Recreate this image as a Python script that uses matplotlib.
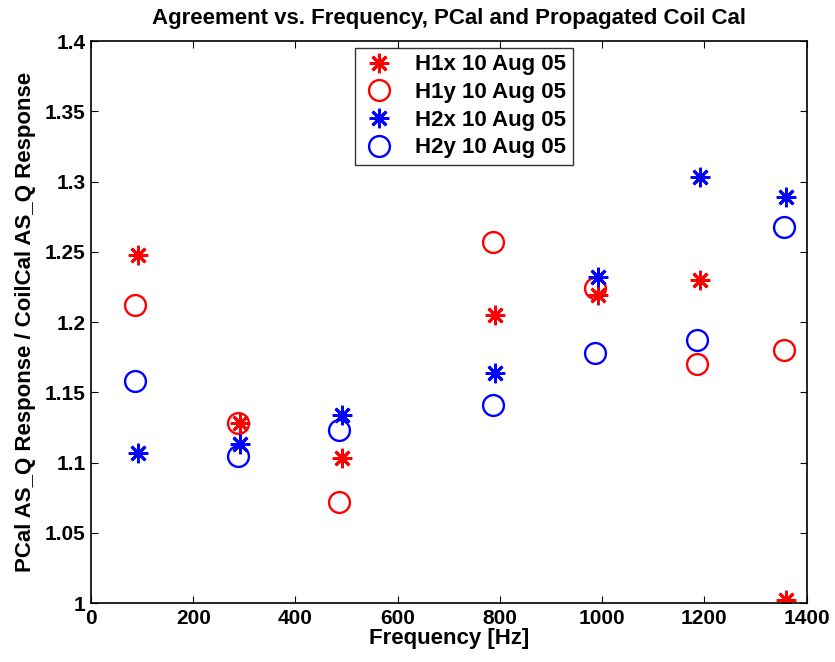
import matplotlib
matplotlib.use('Agg')
import matplotlib.pyplot as plt

plt.rcParams['font.family'] = ['Liberation Sans', 'DejaVu Sans']
plt.rcParams['font.weight'] = 'bold'

# frequencies (stars and circles are plotted a hair apart)
freq_x = [91, 291, 491, 791, 991, 1191, 1360]
freq_y = [87, 288, 486, 786, 986, 1186, 1356]

h1x = [1.248, 1.128, 1.103, 1.205, 1.219, 1.230, 1.002]
h1y = [1.212, 1.128, 1.072, 1.257, 1.224, 1.170, 1.180]
h2x = [1.107, 1.113, 1.134, 1.164, 1.232, 1.303, 1.289]
h2y = [1.158, 1.105, 1.123, 1.141, 1.178, 1.187, 1.268]

labels = ['H1x 10 Aug 05', 'H1y 10 Aug 05', 'H2x 10 Aug 05', 'H2y 10 Aug 05']

fig = plt.figure(figsize=(8.35, 6.62), dpi=100)
ax = fig.add_axes([0.109, 0.089, 0.857, 0.849])

star = (8, 2, 0)
ax.plot(freq_x, h1x, linestyle='none', marker=star, color='red', markersize=14, markeredgewidth=2, label=labels[0])
ax.plot(freq_y, h1y, linestyle='none', marker='o', color='red', markerfacecolor='none', markersize=15, markeredgewidth=1.7, label=labels[1])
ax.plot(freq_x, h2x, linestyle='none', marker=star, color='blue', markersize=14, markeredgewidth=2, label=labels[2])
ax.plot(freq_y, h2y, linestyle='none', marker='o', color='blue', markerfacecolor='none', markersize=15, markeredgewidth=1.7, label=labels[3])

ax.set_xlim(0, 1400)
ax.set_ylim(1, 1.4)
ax.set_xticks(range(0, 1401, 200))
ax.set_yticks([1, 1.05, 1.1, 1.15, 1.2, 1.25, 1.3, 1.35, 1.4])
ax.set_yticklabels(['1', '1.05', '1.1', '1.15', '1.2', '1.25', '1.3', '1.35', '1.4'])
ax.tick_params(direction='in', labelsize=15, top=True, right=True, length=5, pad=4)
for s in ax.spines.values():
    s.set_linewidth(1.2)

ax.set_title('Agreement vs. Frequency, PCal and Propagated Coil Cal', fontsize=16, fontweight='bold', pad=12)
ax.set_xlabel('Frequency [Hz]', fontsize=16, fontweight='bold', labelpad=0)
ax.set_ylabel('PCal AS_Q Response / CoilCal AS_Q Response', fontsize=16, fontweight='bold', labelpad=6)

leg = ax.legend(loc='upper center', bbox_to_anchor=(0.521, 1.008), fontsize=16, frameon=True,
                fancybox=False, edgecolor='black', handletextpad=0.8, borderpad=0.3, labelspacing=0.3,
                handlelength=1.6)
leg.get_frame().set_linewidth(1.0)

plt.savefig('out.png', dpi=100)
